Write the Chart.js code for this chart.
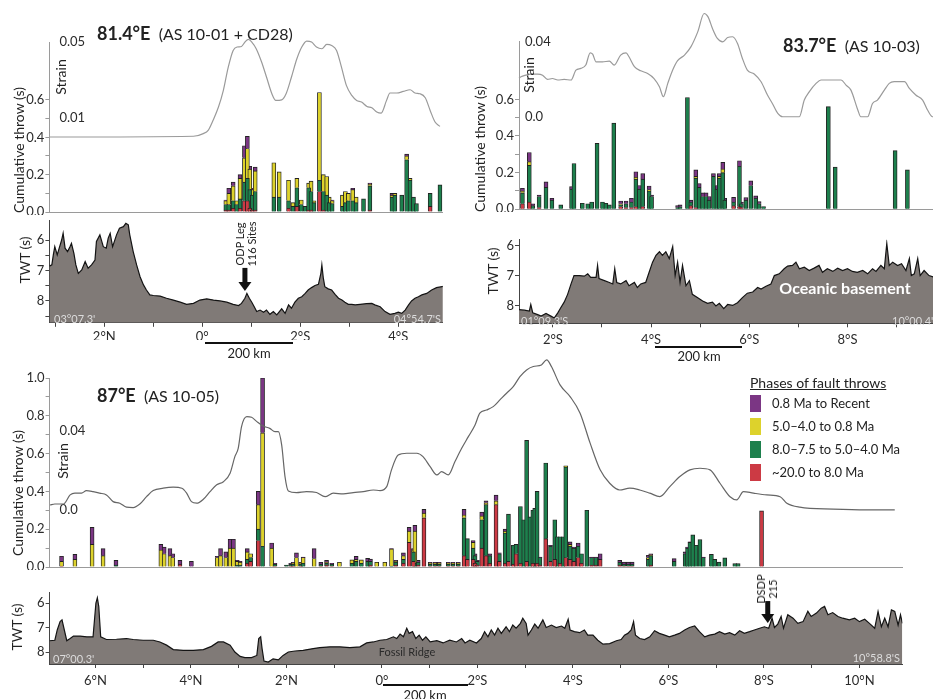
<!DOCTYPE html>
<html lang="en">
<head>
  <meta charset="UTF-8">
  <title>Fault throws, strain and basement TWT</title>
  <script src="https://cdn.jsdelivr.net/npm/chart.js"></script>
  <style>
    body { margin: 0; background: #fff; font-family: Lato, 'Open Sans', sans-serif; color: #222; }
    #fig { position: relative; width: 933px; height: 699px; overflow: hidden; }
    canvas { position: absolute; }
    .t { position: absolute; white-space: nowrap; z-index: 2; }
    .c { transform: translate(-50%, -50%); }
    .r { transform: translate(-100%, 0); }
    .rot { position: absolute; white-space: nowrap; z-index: 2; transform: translate(-50%, -50%) rotate(-90deg); text-align: center; }
    .title { line-height: 22px; }
    .title b { font-size: 18px; }
    .title span { font-size: 16px; }
    .axt { font-size: 14px; }
    .corner { font-size: 11px; color: #dcdcdc; }
    .bar { position: absolute; height: 2px; background: #111; z-index: 2; }
    .km { font-size: 13px; }
    #legend { position: absolute; left: 750px; top: 374px; z-index: 2; }
    #legend .hd { font-size: 14px; text-decoration: underline; line-height: 18px; }
    #legend .lgi { font-size: 13px; height: 23px; line-height: 23px; }
    #legend .lgi i { display: inline-block; width: 11px; height: 17px; vertical-align: -4px; margin-right: 11px; }
  </style>
</head>
<body>
<div id="fig">
  <canvas id="barA" width="446" height="185" style="left:0;top:30px"></canvas>
  <canvas id="twtA" width="446" height="125" style="left:0;top:215px"></canvas>
  <canvas id="barB" width="480" height="212" style="left:470px;top:0"></canvas>
  <canvas id="twtB" width="480" height="130" style="left:470px;top:215px"></canvas>
  <canvas id="barC" width="910" height="220" style="left:0;top:350px"></canvas>
  <canvas id="twtC" width="910" height="105" style="left:0;top:585px"></canvas>

  <div class="t title" style="left:97px;top:22px"><b>81.4°E</b>&nbsp;&nbsp;<span>(AS 10-01 + CD28)</span></div>
  <div class="t title" style="left:783px;top:34px"><b>83.7°E</b>&nbsp;&nbsp;<span>(AS 10-03)</span></div>
  <div class="t title" style="left:97px;top:384px"><b>87°E</b>&nbsp;&nbsp;<span>(AS 10-05)</span></div>

  <div class="rot axt" style="left:18px;top:150px">Cumulative throw (s)</div>
  <div class="rot axt" style="left:479px;top:149px">Cumulative throw (s)</div>
  <div class="rot axt" style="left:17px;top:493px">Cumulative throw (s)</div>
  <div class="rot axt" style="left:60px;top:77px">Strain</div>
  <div class="rot axt" style="left:528px;top:75px">Strain</div>
  <div class="rot axt" style="left:62px;top:461px">Strain</div>
  <div class="rot axt" style="left:24px;top:260px">TWT (s)</div>
  <div class="rot axt" style="left:492px;top:271px">TWT (s)</div>
  <div class="rot axt" style="left:16px;top:627px">TWT (s)</div>

  <div class="t corner" style="left:54px;top:312px">03°07.3'</div>
  <div class="t corner r" style="left:441px;top:312px">04°54.7'S</div>
  <div class="t corner" style="left:521px;top:314px">01°09.3'S</div>
  <div class="t corner" style="left:892px;top:314px">10°00.4'S</div>
  <div class="t corner" style="left:53px;top:652px">07°00.3'</div>
  <div class="t corner r" style="left:900px;top:651px">10°58.8'S</div>

  <div class="t c" style="left:845px;top:287px;font-size:16px;font-weight:bold;color:#fff">Oceanic basement</div>
  <div class="t c" style="left:407px;top:651px;font-size:11px;color:#2a2a2a">Fossil Ridge</div>
  <div class="rot" style="left:246px;top:244px;font-size:11px;line-height:12px">ODP Leg<br>116 Sites</div>
  <div class="rot" style="left:767px;top:589px;font-size:11px;line-height:12px">DSDP<br>215</div>

  <div class="bar" style="left:205px;top:342px;width:88px"></div>
  <div class="t km c" style="left:249px;top:353px">200 km</div>
  <div class="bar" style="left:655px;top:346px;width:87px"></div>
  <div class="t km c" style="left:699px;top:356px">200 km</div>
  <div class="bar" style="left:383px;top:684px;width:85px"></div>
  <div class="t km c" style="left:425px;top:695px">200 km</div>

  <div id="legend"><div class="hd">Phases of fault throws</div></div>
</div>
<script>
  const PHASE_LABELS = ['0.8 Ma to Recent', '5.0–4.0 to 0.8 Ma', '8.0–7.5 to 5.0–4.0 Ma', '~20.0 to 8.0 Ma'];
  const PHASE_COLORS = ['#7b3684', '#ddd22c', '#1d804d', '#cc3a44'];

  // fault throws: [latitude (°S positive), ~20-8 Ma, 8-4 Ma, 5-0.8 Ma, 0.8 Ma-Recent]
  const throwsA = [
    [0.48,.01,.03,.02,.004],[0.54,.01,.03,.06,.027],[0.63,.02,.04,.08,.02],[0.70,0,.04,.02,0],
    [0.77,.02,.05,.11,.02],[0.86,.06,.10,.13,.065],[0.92,.06,.12,.16,.065],[0.97,.02,.10,.11,.015],
    [1.02,.01,.08,.03,.007],[1.08,.01,.10,.11,.02],[1.46,0,.08,.184,0],[1.57,0,.08,.135,0],
    [1.76,.02,.04,.11,0],[1.85,0,.03,.02,0],[1.93,.03,.10,.05,0],[2.02,0,.04,.024,0],
    [2.10,0,.03,0,0],[2.17,.01,.12,.025,0],[2.22,.01,.10,.055,0],[2.28,0,.05,.01,0],
    [2.39,.11,.06,.47,0],[2.47,.01,.10,.09,0],[2.54,0,.09,.10,0],[2.59,0,.05,.03,0],
    [2.65,0,.045,.015,.004],[2.86,0,.03,.06,0],[2.92,0,.05,.06,0],[2.98,0,.06,.04,0],
    [3.07,0,.06,.06,.007],[3.14,0,.05,.03,0],[3.29,0,.07,0,0],[3.42,.01,.13,.01,.005],
    [3.87,0,.08,.01,.01],[3.93,0,.09,.01,0],[4.07,0,.09,0,0],[4.17,0,.28,.02,.01],
    [4.24,0,.17,.01,0],[4.31,0,.08,0,0],[4.37,0,.045,0,0],[4.65,.03,.07,0,0],[4.85,0,.145,0,0]
  ];
  const throwsB = [
    [1.38,.03,.06,.01,.015],[1.52,.04,.20,.02,.05],[1.59,0,.02,0,.01],[1.72,.01,.06,0,.008],
    [1.86,0,.12,0,.03],[1.98,0,.05,0,.01],[2.16,0,.024,0,0],[2.38,0,.11,0,.014],
    [2.43,0,.25,0,0],[2.60,0,.033,0,0],[2.71,0,.03,0,0],[2.79,0,.04,0,0],
    [2.90,0,.36,0,0],[3.01,0,.04,0,0],[3.08,0,.033,0,0],[3.15,0,.024,0,0],
    [3.24,0,.47,0,0],[3.38,.015,.01,.005,.015],[3.49,.01,.02,0,.015],[3.60,.01,.03,0,.02],
    [3.69,.015,.15,.01,.03],[3.76,0,.11,0,.02],[3.83,.015,.15,0,.03],[3.96,0,.10,.007,.02],
    [4.01,0,.07,0,.008],[4.54,0,.01,0,.01],[4.59,0,.014,0,.01],[4.74,0,.61,0,0],
    [4.81,.02,.02,0,.01],[4.91,.01,.16,.01,.035],[4.98,0,.12,0,.02],[5.05,0,.07,0,.02],
    [5.12,0,.07,0,.02],[5.18,0,.05,0,.02],[5.27,0,.18,0,.015],[5.34,0,.11,0,.02],
    [5.39,0,.17,.01,.015],[5.46,0,.20,.02,.036],[5.50,0,.05,0,.01],[5.68,.02,.02,0,.025],
    [5.80,.015,.22,0,.03],[5.84,.01,.02,0,.01],[5.93,0,.05,0,.014],[6.03,0,.13,0,.025],
    [6.13,0,.06,0,.013],[6.20,0,.03,0,.012],[6.29,0,.015,0,0],[7.61,0,.56,0,0],
    [7.75,0,.23,0,0],[8.97,0,.32,0,0],[9.22,0,.215,0,0]
  ];
  const throwsC = [
    [-6.71,.005,0,.025,.027],[-6.43,0,0,.04,.027],[-6.07,0,0,.12,.09],[-5.84,0,0,.06,.037],
    [-5.57,0,.01,0,.025],[-4.63,0,0,.09,.03],[-4.56,0,0,.07,.035],[-4.44,0,0,.06,.037],
    [-4.38,0,0,.05,.02],[-4.23,.015,0,0,.02],[-3.99,0,0,0,.03],[-3.45,0,0,.05,.007],
    [-3.38,0,0,.06,.037],[-3.27,0,0,.05,.03],[-3.18,0,0,.10,.047],[-3.11,0,0,.10,.047],
    [-3.03,0,.01,.02,.005],[-2.97,0,.01,.015,.005],[-2.82,.02,.02,.04,.017],[-2.75,.03,.02,.02,0],
    [-2.59,.14,.06,.13,.07],[-2.50,0,.11,.60,.29],[-2.31,0,0,.10,.027],[-2.24,.005,.01,0,.005],
    [-2.00,0,.01,0,0],[-1.91,.005,.01,0,.005],[-1.86,.005,.01,.005,.005],[-1.79,0,0,.05,.025],
    [-1.70,.005,.01,.005,.005],[-1.65,0,.02,.03,.003],[-1.42,0,0,.045,.052],[-1.28,.005,.01,0,.01],
    [-1.16,.01,.01,.005,.01],[-1.05,.005,.01,0,.005],[-0.89,0,0,.025,0],[-0.63,0,.02,.018,0],
    [-0.54,0,.03,.01,.016],[-0.43,0,.02,.018,0],[-0.30,0,.03,0,.016],[-0.24,.01,.02,0,.012],
    [-0.11,0,0,.025,0],[0.06,0,0,.025,0],[0.20,0,.005,.09,.002],[0.29,.01,.015,.005,.005],
    [0.45,.02,.02,.02,.015],[0.57,.13,0,.06,.02],[0.66,.03,.05,.01,.007],[0.69,0,.02,.17,.03],
    [0.76,.01,.015,0,.01],[0.88,.26,0,.025,.02],[1.01,.005,.01,.005,.005],[1.11,.005,.01,.005,.005],
    [1.20,.005,.01,.005,.005],[1.39,.005,.01,.005,.005],[1.49,.005,.01,.005,.005],[1.60,.005,.01,.005,.005],
    [1.72,.06,.20,.015,.03],[1.79,.04,.11,0,0],[1.91,.04,.06,.03,.01],[1.95,.02,.04,0,.01],
    [2.00,.01,.02,0,.005],[2.09,.10,.15,.02,.02],[2.18,.06,.27,.01,.01],[2.26,.02,.04,0,.01],
    [2.39,.33,0,.02,.03],[2.46,.03,.04,0,.005],[2.58,.02,.16,.01,.01],[2.65,.03,.25,0,0],
    [2.75,.015,.10,0,0],[2.81,.07,.05,0,0],[2.90,.02,.30,0,0],[2.97,0,.25,0,0],
    [3.03,.03,.64,0,0],[3.10,0,.265,0,0],[3.16,.02,.28,0,0],[3.20,0,.31,0,0],
    [3.25,.02,.38,0,0],[3.31,.01,.04,0,.003],[3.43,.15,.40,0,0],[3.53,.03,.08,0,.005],
    [3.62,.04,.21,0,0],[3.67,0,.16,0,0],[3.73,.02,.14,0,0],[3.80,0,.16,0,0],
    [3.85,.05,.48,.005,0],[3.94,.04,.07,.01,.013],[4.02,.03,.07,0,.006],[4.11,.05,.06,0,.017],
    [4.18,.02,.05,0,0],[4.29,0,.30,0,0],[4.39,.01,.04,0,.003],[4.48,.01,.04,0,.003],
    [4.57,.04,0,0,.03],[4.98,.01,.015,0,.01],[5.07,.005,.01,0,.011],[5.16,.005,.01,0,.011],
    [5.24,.005,.01,0,.011],[5.58,0,.04,.01,.012],[5.63,.01,.05,.005,.005],[6.12,0,.03,0,.014],
    [6.35,0,.07,0,.01],[6.40,0,.10,0,.006],[6.45,0,.13,0,.003],[6.51,0,.17,0,0],
    [6.58,0,.115,0,0],[6.66,0,.145,0,0],[6.73,0,.05,0,.003],[6.90,0,.067,0,0],
    [6.97,0,.04,0,0],[7.06,0,.026,0,0],[7.18,0,.048,0,0],[7.39,0,.018,0,0],
    [7.46,0,.018,0,0],[7.95,.297,0,0,0]
  ];

  // strain: [latitude, strain]
  const strainA = [
    [-3.12,0],[-0.18,0.0004],[0.02,0.0018],[0.12,0.0035],[0.22,0.0088],[0.33,0.0158],[0.43,0.0246],
    [0.53,0.0368],[0.63,0.0456],[0.71,0.0474],[0.80,0.0477],[0.87,0.05],[0.94,0.0514],[1.01,0.05],
    [1.10,0.0465],[1.21,0.0395],[1.31,0.0316],[1.42,0.0228],[1.50,0.0193],[1.62,0.0196],[1.71,0.0228],
    [1.82,0.0316],[1.93,0.0412],[2.03,0.0474],[2.13,0.0505],[2.23,0.05],[2.33,0.0474],[2.44,0.0465],
    [2.54,0.0488],[2.64,0.0482],[2.74,0.0456],[2.84,0.0368],[2.94,0.0272],[3.05,0.0219],[3.15,0.0193],
    [3.25,0.0184],[3.36,0.0161],[3.46,0.0154],[3.56,0.0132],[3.65,0.0126],[3.76,0.0193],[3.83,0.0232],
    [3.97,0.0232],[4.10,0.024],[4.24,0.0249],[4.34,0.0232],[4.44,0.0228],[4.55,0.0207],[4.65,0.014],
    [4.75,0.0079],[4.85,0.0056]
  ];
  const strainB = [
    [1.31,0.0205],[1.35,0.0213],[1.45,0.0222],[1.55,0.0228],[1.69,0.0228],[1.79,0.0222],[1.89,0.0199],
    [1.99,0.0204],[2.10,0.0196],[2.23,0.0199],[2.37,0.0196],[2.47,0.0249],[2.57,0.0258],[2.67,0.0276],
    [2.76,0.0341],[2.81,0.0334],[2.88,0.0293],[3.01,0.0293],[3.15,0.0297],[3.25,0.0276],[3.38,0.0329],
    [3.49,0.0341],[3.55,0.032],[3.66,0.0267],[3.79,0.0245],[3.93,0.0231],[4.06,0.0204],[4.17,0.016],
    [4.25,0.0107],[4.34,0.0178],[4.44,0.0249],[4.54,0.0299],[4.68,0.0329],[4.81,0.0373],[4.95,0.0453],
    [5.08,0.0551],[5.16,0.0533],[5.25,0.0471],[5.35,0.0418],[5.46,0.04],[5.56,0.0423],[5.66,0.0427],
    [5.76,0.0391],[5.86,0.0311],[5.96,0.0249],[6.10,0.0228],[6.24,0.0187],[6.37,0.0116],[6.47,0.0071],
    [6.58,0.0018],[6.68,0],[7.02,0],[7.12,0.0089],[7.22,0.0133],[7.36,0.0178],[7.46,0.0196],
    [7.59,0.0196],[7.73,0.0196],[7.87,0.0196],[7.97,0.0169],[8.07,0.0142],[8.21,0.0036],[8.27,0],
    [8.41,0],[8.51,0.0071],[8.61,0.0089],[8.75,0.0142],[8.85,0.0178],[8.95,0.0187],[9.16,0.0187],
    [9.26,0.0151],[9.39,0.0116],[9.53,0.0089],[9.63,0.0036],[9.73,0],[10.01,0]
  ];
  const strainC = [
    [-6.95,0.0025],[-6.85,0.003],[-6.67,0.003],[-6.53,0.0076],[-6.43,0.0085],[-6.29,0.0085],[-6.19,0.0098],
    [-6.05,0.0093],[-5.91,0.0085],[-5.77,0.0076],[-5.63,0.0042],[-5.49,0.0034],[-5.35,0.0014],[-5.21,0.0012],
    [-5.07,0.003],[-4.93,0.0067],[-4.79,0.0098],[-4.58,0.011],[-4.37,0.0115],[-4.19,0.011],[-4.09,0.0085],
    [-3.99,0.0042],[-3.88,0.0034],[-3.74,0.0054],[-3.60,0.0093],[-3.46,0.0127],[-3.32,0.0143],[-3.18,0.0186],
    [-3.08,0.027],[-3.01,0.0312],[-2.94,0.0422],[-2.83,0.0472],[-2.73,0.0469],[-2.62,0.0447],[-2.49,0.0425],
    [-2.35,0.0413],[-2.24,0.0396],[-2.17,0.0396],[-2.10,0.0329],[-2.03,0.0169],[-1.96,0.0096],[-1.79,0.0088],
    [-1.58,0.0093],[-1.37,0.0088],[-1.19,0.0067],[-1.02,0.0085],[-0.81,0.0081],[-0.60,0.0088],[-0.39,0.0093],
    [-0.18,0.0101],[-0.04,0.0098],[0.10,0.0118],[0.20,0.0203],[0.34,0.0278],[0.52,0.0287],[0.73,0.0287],
    [0.86,0.027],[1.01,0.0219],[1.15,0.0177],[1.25,0.0194],[1.39,0.0177],[1.53,0.0245],[1.67,0.0312],
    [1.81,0.0371],[1.95,0.043],[2.05,0.049],[2.19,0.0506],[2.33,0.0523],[2.47,0.0557],[2.61,0.0591],
    [2.75,0.0624],[2.89,0.0675],[3.03,0.0709],[3.17,0.0726],[3.34,0.0734],[3.45,0.076],[3.55,0.0726],
    [3.73,0.0633],[3.94,0.0574],[4.15,0.049],[4.36,0.0338],[4.57,0.0203],[4.77,0.0135],[4.98,0.0101],
    [5.19,0.011],[5.40,0.0101],[5.61,0.0085],[5.82,0.0067],[6.03,0.0118],[6.24,0.0169],[6.45,0.0203],
    [6.66,0.0211],[6.87,0.0203],[7.08,0.0135],[7.29,0.0067],[7.43,0.0051],[7.57,0.0093],[7.78,0.0085],
    [8.06,0.0076],[8.34,0.0067],[8.48,0.0034],[8.75,0.0014],[9.45,0.0004],[10.15,0],[10.74,0]
  ];

  // basement two-way travel time: [latitude, TWT s]
  const twtA = [
    [-3.12,6.85],[-3.07,6.81],[-3.04,6.48],[-3.01,6.21],[-2.96,6.48],[-2.92,6.26],[-2.87,5.99],[-2.84,5.77],
    [-2.80,6.26],[-2.75,6.37],[-2.70,6.21],[-2.67,6.10],[-2.62,6.43],[-2.58,6.81],[-2.53,7.09],[-2.46,6.98],
    [-2.39,6.70],[-2.33,6.92],[-2.26,6.81],[-2.19,6.65],[-2.16,6.04],[-2.09,5.82],[-2.02,6.21],[-1.96,6.26],
    [-1.92,5.93],[-1.88,5.77],[-1.83,6.21],[-1.75,5.82],[-1.69,5.60],[-1.61,5.55],[-1.56,5.44],[-1.51,5.49],
    [-1.48,5.82],[-1.41,6.37],[-1.34,6.81],[-1.27,7.20],[-1.20,7.47],[-1.14,7.64],[-1.07,7.80],[-1.00,7.82],
    [-0.86,7.84],[-0.73,7.91],[-0.59,7.97],[-0.45,8.04],[-0.32,8.11],[-0.18,8.08],[-0.05,7.97],[0.09,7.93],
    [0.23,7.97],[0.36,8.00],[0.50,8.04],[0.63,8.11],[0.74,8.15],[0.80,8.08],[0.87,7.91],[0.91,7.75],
    [0.96,7.91],[1.01,8.04],[1.06,8.19],[1.11,8.35],[1.18,8.30],[1.25,8.37],[1.31,8.30],[1.38,8.44],
    [1.45,8.35],[1.52,8.46],[1.62,8.26],[1.69,8.41],[1.76,8.13],[1.82,8.24],[1.89,8.04],[1.96,7.91],
    [2.03,7.86],[2.10,7.75],[2.16,7.64],[2.23,7.56],[2.30,7.49],[2.37,7.45],[2.42,7.09],[2.44,6.81],
    [2.47,7.25],[2.50,7.53],[2.57,7.60],[2.64,7.64],[2.71,7.78],[2.78,7.91],[2.85,7.97],[2.91,8.04],
    [2.98,8.11],[3.05,8.11],[3.12,8.13],[3.22,8.11],[3.35,8.09],[3.46,8.08],[3.52,8.13],[3.63,8.19],
    [3.73,8.35],[3.83,8.44],[3.93,8.41],[4.00,8.37],[4.07,8.41],[4.14,8.30],[4.21,8.13],[4.27,8.00],
    [4.34,7.91],[4.41,7.86],[4.48,7.80],[4.58,7.75],[4.68,7.64],[4.78,7.56],[4.89,7.53],[4.91,7.52]
  ];
  const twtB = [
    [1.31,8.14],[1.42,8.16],[1.52,8.19],[1.55,7.97],[1.59,8.25],[1.69,8.31],[1.76,8.36],[1.86,8.27],
    [1.96,8.36],[2.03,8.42],[2.10,8.25],[2.16,8.08],[2.23,7.89],[2.30,7.63],[2.37,7.28],[2.43,7.00],
    [2.54,7.00],[2.64,7.02],[2.71,6.94],[2.77,7.06],[2.88,7.06],[2.91,6.66],[2.94,7.10],[3.05,7.17],
    [3.15,7.23],[3.22,7.28],[3.26,6.77],[3.30,7.23],[3.38,7.28],[3.49,7.17],[3.55,7.34],[3.66,7.23],
    [3.72,7.40],[3.79,7.28],[3.89,7.23],[3.96,6.89],[4.03,6.55],[4.10,6.32],[4.17,6.20],[4.23,6.32],
    [4.30,6.20],[4.37,6.43],[4.44,6.03],[4.49,7.00],[4.54,6.55],[4.59,7.23],[4.64,6.66],[4.71,7.34],
    [4.78,7.17],[4.84,7.63],[4.95,7.74],[5.05,7.85],[5.15,7.93],[5.25,7.89],[5.32,8.02],[5.39,7.93],
    [5.48,8.11],[5.56,7.97],[5.66,8.00],[5.76,7.91],[5.86,7.74],[5.96,7.59],[6.07,7.55],[6.17,7.40],
    [6.24,7.45],[6.34,7.36],[6.44,7.28],[6.51,7.00],[6.61,6.94],[6.71,6.77],[6.78,6.68],[6.88,6.66],
    [6.95,6.55],[7.02,6.77],[7.12,6.72],[7.22,6.83],[7.32,6.75],[7.42,6.66],[7.49,6.89],[7.59,6.77],
    [7.70,6.86],[7.80,6.75],[7.90,6.83],[8.00,6.77],[8.10,6.86],[8.20,6.89],[8.31,6.83],[8.41,6.94],
    [8.51,6.77],[8.58,6.86],[8.68,6.66],[8.75,6.77],[8.80,5.92],[8.85,6.66],[8.92,6.55],[9.02,6.66],
    [9.10,6.60],[9.19,6.83],[9.26,6.43],[9.30,7.00],[9.36,6.94],[9.43,6.43],[9.48,7.00],[9.56,6.83],
    [9.66,7.00],[9.77,7.06],[9.90,7.00],[10.01,7.05]
  ];
  const twtC = [
    [-6.96,7.54],[-6.85,7.52],[-6.80,7.10],[-6.74,6.76],[-6.70,6.69],[-6.66,7.03],[-6.60,7.54],[-6.53,7.45],
    [-6.46,7.35],[-6.32,7.35],[-6.18,7.38],[-6.05,7.38],[-5.99,6.00],[-5.96,5.79],[-5.93,6.14],[-5.89,7.38],
    [-5.77,7.49],[-5.56,7.48],[-5.35,7.45],[-5.21,7.49],[-5.00,7.52],[-4.79,7.52],[-4.65,7.59],[-4.51,7.72],
    [-4.37,7.90],[-4.16,7.93],[-3.95,7.93],[-3.74,7.90],[-3.57,7.77],[-3.43,7.59],[-3.32,7.59],[-3.18,7.72],
    [-3.08,8.00],[-2.97,8.18],[-2.87,8.23],[-2.73,8.23],[-2.62,8.14],[-2.58,7.45],[-2.54,7.38],[-2.51,7.86],
    [-2.47,8.37],[-2.38,8.41],[-2.28,8.28],[-2.17,8.32],[-2.07,8.14],[-1.96,8.00],[-1.82,7.96],[-1.65,7.93],
    [-1.44,7.86],[-1.30,7.82],[-1.09,7.79],[-0.88,7.79],[-0.67,7.82],[-0.46,7.79],[-0.32,7.63],[-0.18,7.59],
    [-0.04,7.52],[0.10,7.49],[0.24,7.38],[0.31,7.45],[0.38,7.27],[0.45,7.38],[0.52,7.03],[0.57,7.24],
    [0.64,7.17],[0.71,7.45],[0.78,7.31],[0.85,7.52],[0.92,7.38],[1.01,7.59],[1.15,7.54],[1.28,7.63],
    [1.42,7.52],[1.56,7.59],[1.67,7.45],[1.74,7.63],[1.84,7.52],[1.98,7.63],[2.08,7.45],[2.15,7.17],
    [2.22,7.38],[2.29,7.10],[2.36,7.31],[2.43,7.03],[2.50,7.24],[2.60,6.97],[2.67,7.17],[2.74,6.90],
    [2.81,7.03],[2.90,6.83],[2.95,6.62],[3.02,6.83],[3.06,7.31],[3.13,7.10],[3.20,6.86],[3.27,7.03],
    [3.37,6.69],[3.44,7.00],[3.55,6.90],[3.65,7.00],[3.76,6.94],[3.83,7.03],[3.90,6.66],[3.94,7.10],
    [4.03,7.17],[4.14,7.21],[4.24,7.10],[4.31,7.31],[4.42,7.31],[4.52,7.52],[4.63,7.68],[4.77,7.66],
    [4.91,7.54],[5.01,7.49],[5.08,7.31],[5.15,7.24],[5.22,7.10],[5.27,6.76],[5.31,7.31],[5.40,7.45],
    [5.50,7.49],[5.61,7.38],[5.71,7.13],[5.81,7.24],[5.92,7.31],[6.02,7.38],[6.13,7.31],[6.23,7.24],
    [6.34,7.10],[6.44,7.00],[6.55,6.94],[6.65,7.17],[6.76,7.38],[6.86,7.31],[6.97,7.27],[7.07,7.17],
    [7.18,7.27],[7.28,7.21],[7.39,7.31],[7.49,7.13],[7.59,7.24],[7.70,7.17],[7.80,7.10],[7.91,7.03],
    [8.01,6.97],[8.10,7.03],[8.17,6.62],[8.22,7.00],[8.29,6.86],[8.36,6.55],[8.41,7.03],[8.50,6.48],
    [8.61,6.62],[8.71,6.83],[8.82,6.76],[8.92,6.34],[8.99,6.55],[9.10,6.41],[9.20,6.21],[9.27,6.14],
    [9.34,6.48],[9.44,6.39],[9.55,6.55],[9.65,6.62],[9.79,6.69],[9.90,6.62],[10.00,6.76],[10.11,6.66],
    [10.21,6.83],[10.32,7.03],[10.39,6.34],[10.46,6.97],[10.53,6.62],[10.60,6.97],[10.67,6.28],[10.74,6.34],
    [10.81,6.90],[10.86,6.48],[10.90,6.83]
  ];

  // tick values and labels
  const throwTicksAB = [0, 0.1, 0.2, 0.3, 0.4, 0.5, 0.6];
  const throwTicksC = [0, 0.1, 0.2, 0.3, 0.4, 0.5, 0.6, 0.7, 0.8, 0.9, 1.0];
  const strainTicksA = [0.01, 0.05];
  const strainTicksBC = [0, 0.04];
  const twtTicks = [6, 6.5, 7, 7.5, 8, 8.5];
  const degValsA = [-2, 0, 2, 4], degTextA = ['2°N', '0°', '2°S', '4°S'];
  const degValsB = [2, 4, 6, 8], degTextB = ['2°S', '4°S', '6°S', '8°S'];
  const degValsC = [-6, -4, -2, 0, 2, 4, 6, 8, 10], degTextC = ['6°N', '4°N', '2°N', '0°', '2°S', '4°S', '6°S', '8°S', '10°N'];

  // drill sites: [latitude, arrow top TWT, arrow tip TWT]
  const odpSite = [0.87, 6.91, 7.67];
  const dsdpSite = [8.08, 5.92, 6.82];

  const FONT = 'Lato, "Open Sans", sans-serif';
  const TICK_FONT = { family: FONT, size: 13 };
  Chart.defaults.font.family = FONT;

  const legend = document.getElementById('legend');
  PHASE_LABELS.forEach((t, i) => {
    const d = document.createElement('div');
    d.className = 'lgi';
    d.innerHTML = `<i style="background:${PHASE_COLORS[i]}"></i>${t}`;
    legend.appendChild(d);
  });

  // fixed axis sizes, no extra room for edge labels
  const fixW = w => s => { s.width = w; s.paddingTop = 0; s.paddingBottom = 0; };
  const fixH = h => s => { s.height = h; s.paddingLeft = 0; s.paddingRight = 0; };

  const siteArrow = {
    id: 'siteArrow',
    afterDatasetsDraw(chart, args, o) {
      if (!o || !o.site) return;
      const { ctx, scales: { x, y } } = chart;
      const px = x.getPixelForValue(o.site[0]);
      const top = y.getPixelForValue(o.site[1]);
      const tip = y.getPixelForValue(o.site[2]);
      ctx.save();
      ctx.fillStyle = '#111';
      ctx.fillRect(px - 2.5, top, 5, tip - top - 8);
      ctx.beginPath();
      ctx.moveTo(px - 6.5, tip - 9);
      ctx.lineTo(px + 6.5, tip - 9);
      ctx.lineTo(px, tip);
      ctx.closePath();
      ctx.fill();
      ctx.restore();
    }
  };

  function throwChart(id, rows, strain, o) {
    // row column -> phase colour, oldest at the bottom of the stack
    const order = [[1, 3], [2, 2], [3, 1], [4, 0]];
    const datasets = order.map(([col, p]) => ({
      type: 'bar',
      label: PHASE_LABELS[p],
      backgroundColor: PHASE_COLORS[p],
      borderColor: '#222',
      borderWidth: 0.9,
      barThickness: 4,
      data: rows.map(r => ({ x: r[0], y: r[col] || null }))
    }));
    datasets.push({
      type: 'line',
      yAxisID: 'strain',
      data: strain.map(p => ({ x: p[0], y: p[1] })),
      borderColor: o.strainColor,
      borderWidth: 1.2,
      pointRadius: 0,
      cubicInterpolationMode: 'monotone',
      clip: false,
      order: -1
    });
    new Chart(document.getElementById(id), {
      type: 'bar',
      data: { datasets },
      options: {
        responsive: false, animation: false, devicePixelRatio: 1,
        layout: { padding: { top: o.padTop, right: o.padRight, left: 0, bottom: 0 } },
        plugins: { legend: { display: false }, tooltip: { enabled: false } },
        scales: {
          x: {
            type: 'linear', min: o.xMin, max: o.xMax, stacked: true, offset: false,
            ticks: { display: false },
            grid: { drawOnChartArea: false, drawTicks: false, offset: false },
            border: { color: '#9a9a9a' },
            afterFit: fixH(o.xAxisH)
          },
          y: {
            type: 'linear', position: 'left', weight: 1, stacked: true, min: 0, max: o.throwMax,
            afterBuildTicks: s => { s.ticks = o.throwTicks.map(v => ({ value: v })); },
            ticks: { callback: v => Math.round(v * 10) % 2 === 0 ? v.toFixed(1) : '', color: '#2b2b2b', font: TICK_FONT, padding: 1 },
            grid: { drawOnChartArea: false, tickLength: 4, color: '#9a9a9a' },
            border: { color: '#9a9a9a' },
            afterFit: fixW(o.axisW)
          },
          strain: {
            type: 'linear', position: 'left', weight: 0, min: o.sMin, max: o.sMax,
            afterBuildTicks: s => { s.ticks = o.strainTicks.map(v => ({ value: v })); },
            ticks: { mirror: true, padding: o.sPad, callback: v => v === 0 ? '0.0' : String(v), color: '#2b2b2b', font: TICK_FONT },
            grid: { display: false },
            border: { display: false },
            afterFit: fixW(0)
          }
        }
      }
    });
  }

  function twtChart(id, prof, o) {
    new Chart(document.getElementById(id), {
      type: 'line',
      data: {
        datasets: [{
          data: prof.map(p => ({ x: p[0], y: p[1] })),
          borderColor: '#141414',
          borderWidth: 1.2,
          backgroundColor: '#807a77',
          fill: 'start',
          pointRadius: 0,
          tension: 0
        }]
      },
      options: {
        responsive: false, animation: false, devicePixelRatio: 1,
        layout: { padding: { top: o.padTop, right: o.padRight, left: 0, bottom: 0 } },
        plugins: { legend: { display: false }, tooltip: { enabled: false }, siteArrow: o.site ? { site: o.site } : false },
        scales: {
          x: {
            type: 'linear', min: o.xMin, max: o.xMax,
            afterBuildTicks: s => {
              const t = [];
              for (let v = Math.ceil(s.min); v <= Math.floor(s.max); v++) t.push({ value: v });
              s.ticks = t;
            },
            ticks: {
              autoSkip: false, maxRotation: 0, padding: o.xPad, color: '#2b2b2b', font: TICK_FONT,
              callback: v => { const i = o.degVals.indexOf(v); return i < 0 ? '' : o.degText[i]; }
            },
            grid: { drawOnChartArea: false, tickLength: 4, color: '#444' },
            border: { color: '#444' },
            afterFit: fixH(o.xAxisH)
          },
          y: {
            type: 'linear', reverse: true, min: o.yMin, max: o.yMax,
            afterBuildTicks: s => { s.ticks = twtTicks.filter(v => v <= o.yMax).map(v => ({ value: v })); },
            ticks: { callback: v => Number.isInteger(v) ? String(v) : '', color: '#2b2b2b', font: TICK_FONT, padding: 1 },
            grid: { drawOnChartArea: false, tickLength: 4, color: '#444' },
            border: { color: '#444' },
            afterFit: fixW(o.axisW)
          }
        }
      },
      plugins: [siteArrow]
    });
  }

  throwChart('barA', throwsA, strainA, {
    xMin: -3.12, xMax: 4.91, axisW: 49.4, padTop: 12.1, padRight: 3.1, xAxisH: 3,
    throwMax: 0.91, throwTicks: throwTicksAB, sMin: -0.0395, sMax: 0.05, strainTicks: strainTicksA,
    sPad: 10, strainColor: '#9a9a9a'
  });
  twtChart('twtA', twtA, {
    xMin: -3.12, xMax: 4.91, axisW: 49.4, padTop: 5.6, padRight: 3.1, xAxisH: 17.2, xPad: 2,
    yMin: 5.35, yMax: 8.72, degVals: degValsA, degText: degTextA, site: odpSite
  });
  throwChart('barB', throwsB, strainB, {
    xMin: 1.31, xMax: 10.01, axisW: 49, padTop: 41.8, padRight: 3.8, xAxisH: 2.7,
    throwMax: 0.914, throwTicks: throwTicksAB, sMin: -0.0494, sMax: 0.04, strainTicks: strainTicksBC,
    sPad: 6, strainColor: '#9a9a9a'
  });
  twtChart('twtB', twtB, {
    xMin: 1.31, xMax: 10.01, axisW: 49, padTop: 24.8, padRight: 3.8, xAxisH: 21.7, xPad: 5,
    yMin: 5.8, yMax: 8.6, degVals: degValsB, degText: degTextB
  });
  throwChart('barC', throwsC, strainC, {
    xMin: -6.96, xMax: 10.9, axisW: 49.6, padTop: 28, padRight: 7.6, xAxisH: 3,
    throwMax: 1.0, throwTicks: throwTicksC, sMin: -0.0289, sMax: 0.0668, strainTicks: strainTicksBC,
    sPad: 10, strainColor: '#666'
  });
  twtChart('twtC', twtC, {
    xMin: -6.96, xMax: 10.9, axisW: 49.6, padTop: 7, padRight: 7.6, xAxisH: 26, xPad: 5,
    yMin: 5.55, yMax: 8.49, degVals: degValsC, degText: degTextC, site: dsdpSite
  });
</script>
</body>
</html>
